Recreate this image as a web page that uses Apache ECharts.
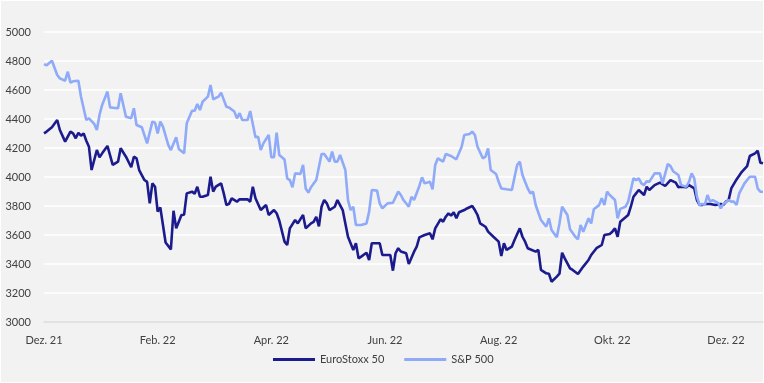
<!DOCTYPE html>
<html>
<head>
<meta charset="utf-8">
<script src="https://cdn.jsdelivr.net/npm/echarts@6/dist/echarts.min.js"></script>
<style>
html,body{margin:0;padding:0;background:#fff;}
#chart{width:764px;height:383px;background:#f2f2f2;box-shadow:inset 0 0 0 1px #fff;}
</style>
</head>
<body>
<div id="chart"></div>
<script>
// x positions are trading-day indices (0 = first trading day of Dez. 21)
const tickLabels = ['Dez. 21','Feb. 22','Apr. 22','Jun. 22','Aug. 22','Okt. 22','Dez. 22'];
const labelStep = 43; // trading days between labels
const totalDays = 272;

const euroDays = [0,1,3,5,6,8,10,11,12,13,14,15,16,17,18,19,20,21,22,24,26,28,29,31,33,34,35,36,38,39,40,41,42,43,44,46,48,49,50,51,52,53,54,56,57,58,59,60,62,63,64,65,67,68,69,70,71,73,74,77,78,79,80,82,84,85,87,88,89,91,92,93,95,96,98,99,101,102,103,104,105,106,107,108,110,111,113,114,115,117,118,119,120,122,123,124,127,128,131,132,133,134,135,137,138,140,141,142,144,146,147,148,150,151,152,153,154,155,156,157,159,160,162,163,164,165,167,168,170,172,173,174,175,177,178,180,181,182,183,186,187,188,190,191,192,194,195,196,197,199,200,202,204,206,207,209,211,212,214,215,216,217,218,220,221,222,223,224,225,227,228,229,231,233,235,237,239,240,241,243,244,246,247,248,249,250,252,254,256,257,258,259,260,262,264,266,267,269,270,271,272];
const euroStoxx = [4301,4313,4343,4393,4324,4244,4313,4301,4267,4305,4285,4301,4250,4209,4048,4117,4186,4136,4163,4214,4083,4106,4198,4140,4067,4140,4129,4048,3979,3966,3818,3956,3933,3761,3790,3548,3501,3767,3646,3692,3738,3740,3887,3899,3885,3933,3864,3864,3876,4002,3899,3933,3956,3887,3807,3815,3853,3830,3846,3846,3830,3933,3853,3772,3807,3738,3772,3750,3700,3554,3531,3646,3703,3680,3738,3646,3680,3690,3726,3660,3795,3841,3818,3772,3795,3841,3772,3680,3588,3497,3543,3439,3451,3478,3428,3543,3543,3462,3462,3354,3474,3509,3486,3474,3400,3485,3520,3584,3600,3612,3570,3646,3708,3692,3726,3749,3734,3757,3715,3757,3772,3783,3800,3772,3738,3680,3657,3623,3588,3554,3455,3543,3497,3520,3566,3646,3588,3554,3509,3485,3497,3359,3336,3333,3278,3313,3333,3478,3439,3370,3359,3331,3382,3428,3462,3509,3531,3600,3607,3623,3646,3588,3692,3722,3738,3795,3864,3887,3910,3876,3933,3910,3944,3961,3938,3979,3961,3929,3933,3929,3944,3921,3841,3807,3807,3814,3814,3807,3814,3807,3830,3841,3921,3983,4036,4075,4145,4163,4181,4099,4094];

const spDays = [0,1,3,5,6,8,9,10,11,13,14,16,17,19,20,21,22,24,25,26,28,29,31,33,34,35,37,39,41,42,43,44,45,47,48,50,51,53,54,56,57,58,59,60,62,63,64,66,67,69,70,72,73,74,75,77,78,80,81,82,83,85,86,87,88,89,91,92,93,94,95,97,98,99,100,101,103,105,106,108,109,110,111,112,114,115,116,117,118,120,122,123,124,126,127,128,130,132,134,135,136,138,139,140,142,143,144,146,147,148,149,151,152,154,156,158,159,161,162,163,164,166,167,168,169,171,172,173,175,177,178,179,180,181,182,183,184,185,186,188,190,191,192,194,195,196,198,199,201,202,203,204,206,207,208,210,211,212,213,214,216,217,218,220,221,223,224,225,226,227,228,229,231,233,234,236,237,238,240,241,243,244,245,246,247,248,249,250,251,252,253,255,256,257,259,260,261,262,263,265,267,269,270,271,272];
const sp500 = [4779,4770,4802,4703,4680,4664,4726,4651,4660,4664,4554,4393,4405,4366,4324,4428,4497,4589,4480,4478,4474,4577,4416,4405,4474,4359,4343,4232,4382,4374,4301,4382,4347,4221,4186,4274,4193,4163,4370,4457,4457,4503,4462,4519,4554,4634,4536,4554,4582,4485,4480,4451,4405,4440,4393,4393,4455,4274,4278,4186,4232,4290,4136,4136,4306,4152,4120,3991,3979,3929,4025,4021,4083,3921,3892,3929,3979,4159,4159,4106,4175,4106,4106,4152,4048,3841,3772,3795,3669,3669,3680,3761,3910,3906,3818,3784,3818,3822,3899,3876,3841,3795,3864,3841,3938,3998,3956,3967,3915,4083,4129,4106,4159,4145,4122,4209,4290,4297,4313,4290,4209,4129,4140,4198,4048,4021,3967,3921,3915,3910,3998,4083,4106,4014,3967,3921,3887,3899,3807,3703,3657,3715,3634,3584,3680,3795,3738,3639,3588,3570,3669,3623,3715,3680,3777,3806,3853,3807,3899,3876,3841,3715,3780,3795,3830,3991,3979,3991,3956,3944,3970,3967,4025,4025,3956,4090,4075,4040,4014,3944,3933,3967,4025,3990,3864,3807,3814,3807,3876,3830,3841,3822,3784,3814,3841,3830,3830,3807,3887,3956,4002,4002,3921,3898,3898];

const yTicks = {min: 3000, max: 5000, interval: 200};

const pair = (xs, ys) => xs.map((x, i) => [x, ys[i]]);
const font = 'Lato, "Open Sans", sans-serif';
const navy = '#1b1b8e';
const light = '#8eaaf8';

const chart = echarts.init(document.getElementById('chart'), null, {renderer: 'canvas'});
chart.setOption({
  backgroundColor: 'transparent',
  animation: false,
  grid: {left: 44, right: 1, top: 32, bottom: 61, containLabel: false},
  legend: {
    left: 268, top: 349,
    icon: 'rect',
    itemWidth: 42, itemHeight: 3, itemGap: 20,
    textStyle: {color: '#404040', fontSize: 11, fontFamily: font},
    data: ['EuroStoxx 50', 'S&P 500']
  },
  xAxis: {
    type: 'value',
    min: 0, max: totalDays, interval: labelStep,
    axisLine: {show: true, lineStyle: {color: '#d9d9d9', width: 1.5}},
    axisTick: {show: false},
    splitLine: {show: false},
    axisLabel: {
      color: '#404040', fontSize: 11, fontFamily: font, margin: 13,
      showMaxLabel: false,
      formatter: v => (v % labelStep === 0 ? (tickLabels[v / labelStep] || '') : '')
    }
  },
  yAxis: {
    type: 'value',
    min: yTicks.min, max: yTicks.max, interval: yTicks.interval,
    axisLine: {show: false},
    axisTick: {show: false},
    splitLine: {lineStyle: {color: '#ffffff', width: 1.5}},
    axisLabel: {color: '#404040', fontSize: 11, fontFamily: font, margin: 13, formatter: v => String(v)}
  },
  series: [
    {
      name: 'EuroStoxx 50', type: 'line', symbol: 'none',
      data: pair(euroDays, euroStoxx),
      lineStyle: {color: navy, width: 2.6},
      itemStyle: {color: navy}
    },
    {
      name: 'S&P 500', type: 'line', symbol: 'none',
      data: pair(spDays, sp500),
      lineStyle: {color: light, width: 2.6},
      itemStyle: {color: light}
    }
  ]
});
</script>
</body>
</html>
